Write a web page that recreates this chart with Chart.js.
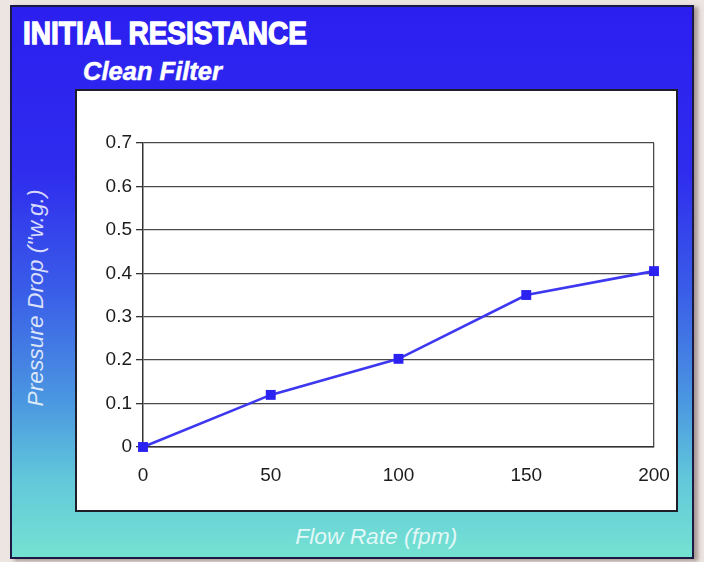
<!DOCTYPE html>
<html>
<head>
<meta charset="utf-8">
<script src="https://cdn.jsdelivr.net/npm/chart.js@4"></script>
<style>
  html, body { margin: 0; padding: 0; }
  body { width: 704px; height: 562px; background: #ece5e1; position: relative; overflow: hidden; }
  #panel {
    position: absolute; left: 10px; top: 5px; width: 680px; height: 550px;
    border: 2px solid #1b1a45;
    background: linear-gradient(to bottom, #2b1ff0 0%, #2f2cee 30%, #3a5ee8 52%, #4b98e0 72%, #62c8da 86%, #74e2d2 100%);
    box-shadow: 4px 2px 4px rgba(120,100,95,0.6);
  }
  .t { position: absolute; color: #fff; white-space: nowrap; transform-origin: left top; }
  #title { left: 23px; top: 16px; font: bold 31px "Liberation Sans", Arial, sans-serif; -webkit-text-stroke: 1.3px #fff; }
  #sub { left: 83px; top: 56px; font: italic bold 26px "Liberation Sans", Arial, sans-serif; -webkit-text-stroke: 0.5px #fff; }
  #ylab { color: rgba(255,255,255,0.82); font: italic 22px "Liberation Sans", Arial, sans-serif; }
  #xlab { color: rgba(255,255,255,0.82); font: italic 22px "Liberation Sans", Arial, sans-serif; }
  #box {
    position: absolute; left: 75px; top: 89px; width: 599px; height: 419px;
    background: #fff; border: 2px solid #1e1e28;
  }
  #box canvas { position: absolute; left: 0; top: 0; }
</style>
</head>
<body>
<div id="panel"></div>
<div class="t" id="title">INITIAL RESISTANCE</div>
<div class="t" id="sub">Clean Filter</div>
<div class="t" id="ylab">Pressure Drop ("w.g.)</div>
<div class="t" id="xlab">Flow Rate (fpm)</div>
<div id="box"><canvas id="c" width="599" height="419"></canvas></div>
<script>
const flowRates = [0, 50, 100, 150, 200];
const pressureDrop = [0, 0.12, 0.203, 0.35, 0.405];
const yTicks = [0, 0.1, 0.2, 0.3, 0.4, 0.5, 0.6, 0.7];
const xTicks = [0, 50, 100, 150, 200];

function fitWidth(el, w) {
  const natural = el.getBoundingClientRect().width;
  el.style.transform = 'scaleX(' + (w / natural) + ')';
}
fitWidth(document.getElementById('title'), 284);
fitWidth(document.getElementById('sub'), 139);
(function () {
  const y = document.getElementById('ylab');
  const nat = y.getBoundingClientRect().width;
  const h = y.getBoundingClientRect().height;
  y.style.transformOrigin = 'center center';
  y.style.left = (36 - nat / 2) + 'px';
  y.style.top = (298 - h / 2) + 'px';
  y.style.transform = 'rotate(-90deg) scaleX(' + (217 / nat) + ')';
  const x = document.getElementById('xlab');
  const natx = x.getBoundingClientRect().width;
  const hx = x.getBoundingClientRect().height;
  x.style.transformOrigin = 'center center';
  x.style.left = (376 - natx / 2) + 'px';
  x.style.top = (537 - hx / 2) + 'px';
  x.style.transform = 'scaleX(' + (162 / natx) + ')';
})();

Chart.defaults.font.family = '"Liberation Sans", Arial, sans-serif';
new Chart(document.getElementById('c'), {
  type: 'line',
  data: {
    datasets: [{
      data: flowRates.map((x, i) => ({ x: x, y: pressureDrop[i] })),
      borderColor: '#3d37f0',
      backgroundColor: '#2b22f2',
      borderWidth: 2.6,
      pointStyle: 'rect',
      pointRadius: 7,
      pointBorderWidth: 0,
      tension: 0,
      fill: false,
      clip: false
    }]
  },
  options: {
    responsive: false,
    animation: false,
    layout: { padding: { left: 0, right: 22, top: 52, bottom: 0 } },
    plugins: { legend: { display: false }, tooltip: { enabled: false } },
    scales: {
      x: {
        type: 'linear', min: 0, max: 200,
        afterBuildTicks: (axis) => { axis.ticks = xTicks.map(v => ({ value: v })); },
        afterFit: (axis) => { axis.height = 63; axis.paddingLeft = 0; axis.paddingRight = 0; },
        grid: {
          drawTicks: false,
          color: (ctx) => ctx.index === xTicks.length - 1 ? '#4a4a4a' : 'rgba(0,0,0,0)',
          lineWidth: 1.3
        },
        border: { color: '#333', width: 1.5 },
        ticks: { color: '#1c1c1c', font: { size: 19 }, padding: 17, maxRotation: 0 }
      },
      y: {
        min: 0, max: 0.7,
        afterBuildTicks: (axis) => { axis.ticks = yTicks.map(v => ({ value: v })); },
        afterFit: (axis) => { axis.width = 66; axis.paddingTop = 0; axis.paddingBottom = 0; },
        grid: { color: '#4a4a4a', lineWidth: 1.3, drawTicks: true, tickLength: 7, tickColor: '#333' },
        border: { color: '#333', width: 1.5 },
        ticks: { color: '#1c1c1c', font: { size: 19 }, padding: 4, callback: (v) => String(Math.round(v * 10) / 10) }
      }
    }
  }
});
</script>
</body>
</html>
